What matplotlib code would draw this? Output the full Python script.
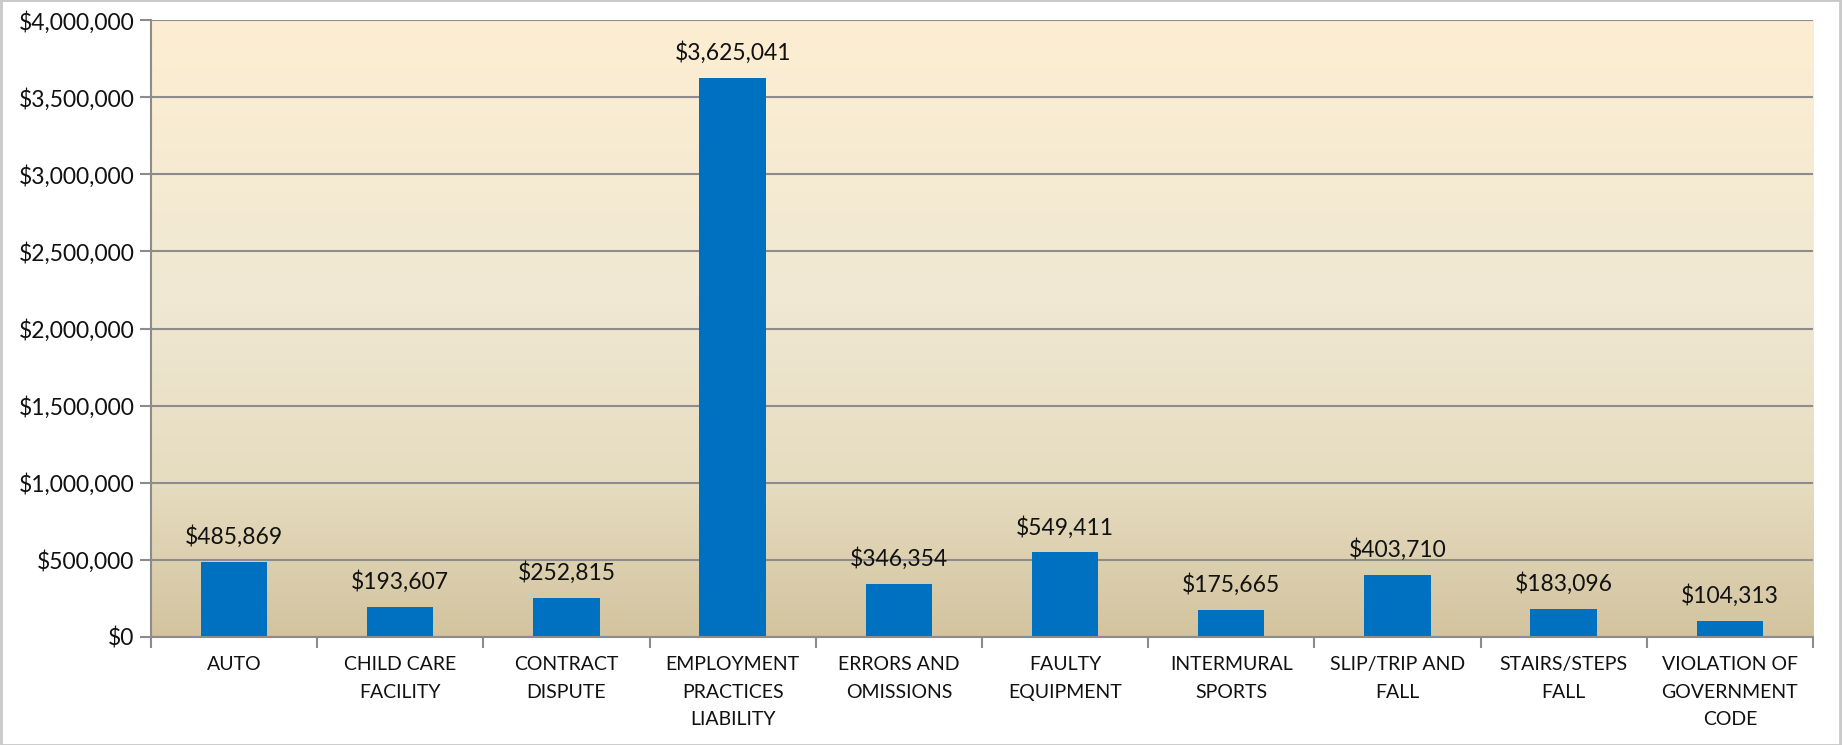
#!/usr/bin/env python3
"""Claim costs by cause, bar chart with Excel-style gradient plot area."""

import numpy as np
import matplotlib.pyplot as plt
from matplotlib.colors import LinearSegmentedColormap
from matplotlib.ticker import FuncFormatter
from matplotlib.patches import Rectangle

categories = ['AUTO', 'CHILD CARE\nFACILITY', 'CONTRACT\nDISPUTE',
              'EMPLOYMENT\nPRACTICES\nLIABILITY', 'ERRORS AND\nOMISSIONS',
              'FAULTY\nEQUIPMENT', 'INTERMURAL\nSPORTS', 'SLIP/TRIP AND\nFALL',
              'STAIRS/STEPS\nFALL', 'VIOLATION OF\nGOVERNMENT\nCODE']
values = [485869, 193607, 252815, 3625041, 346354,
          549411, 175665, 403710, 183096, 104313]
y_ticks = [0, 500000, 1000000, 1500000, 2000000, 2500000, 3000000, 3500000, 4000000]

plt.rcParams['font.family'] = ['Lato', 'DejaVu Sans']

fig = plt.figure(figsize=(18.43, 7.45), dpi=100)
ax = fig.add_axes([0.0819, 0.145, 0.9018, 0.828])

n = len(categories)
x = np.arange(n)
ax.set_xlim(-0.5, n - 0.5)
ax.set_ylim(0, 4000000)

# gradient background for the plot area
cmap = LinearSegmentedColormap.from_list(
    'parch', [(0.0, '#D3C49F'), (0.25, '#E6DCC0'), (0.55, '#F0E8D3'), (1.0, '#FDEED2')])
grad = np.linspace(0, 1, 256).reshape(-1, 1)
ax.imshow(grad, aspect='auto', cmap=cmap, origin='lower',
          extent=[-0.5, n - 0.5, 0, 4000000], zorder=0)

ax.set_yticks(y_ticks)
ax.yaxis.set_major_formatter(FuncFormatter(lambda v, p: f'${v:,.0f}'))
ax.grid(axis='y', color='#8C8C8C', lw=1.5, zorder=1)

bars = ax.bar(x, values, width=0.4, color='#0070C0', zorder=2)
for xi, v in zip(x, values):
    ax.annotate(f'${v:,}', (xi, v), xytext=(0, 10), textcoords='offset points',
                ha='center', va='bottom', fontsize=16.5, color='#111111')

ax.set_xticks(x)
ax.set_xticklabels(categories, fontsize=14, linespacing=1.75, color='#111111')
ax.set_xticks(np.arange(n + 1) - 0.5, minor=True)
ax.tick_params(axis='x', which='major', length=0, pad=14)
ax.tick_params(axis='x', which='minor', length=8, width=1.5, color='#8C8C8C')
ax.tick_params(axis='y', length=8, width=1.5, color='#8C8C8C', labelsize=16.5,
               labelcolor='#111111', pad=4)

for s in ['top', 'right']:
    ax.spines[s].set_visible(False)
for s in ['left', 'bottom']:
    ax.spines[s].set_color('#8C8C8C')
    ax.spines[s].set_linewidth(1.5)

# faint outer frame of the chart
fig.patches.append(Rectangle((0.0005, 0.0), 0.998, 1.0, transform=fig.transFigure,
                             fill=False, edgecolor='#C8C8C8', lw=2))

fig.savefig('out.png', dpi=100)
